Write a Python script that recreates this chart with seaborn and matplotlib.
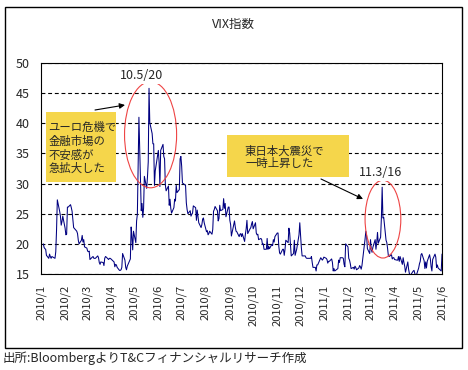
import matplotlib
matplotlib.use("Agg")
import matplotlib.dates as mdates
import matplotlib.pyplot as plt
import pandas as pd
import seaborn as sns
from matplotlib.patches import Ellipse, Rectangle

sns.set_style("white")
plt.rcParams["font.family"] = ["Noto Sans CJK JP", "DejaVu Sans"]

TITLE = "VIX指数"
SOURCE = "出所:BloombergよりT&Cフィナンシャルリサーチ作成"
NOTE_EURO = ["ユーロ危機で", "金融市場の", "不安感が", "急拡大した"]
NOTE_QUAKE = ["東日本大震災で", "一時上昇した"]

START = "2010-01-04"
END = "2011-06-01"
HOLIDAYS = [
    "2010-01-18", "2010-02-15", "2010-04-02", "2010-05-31", "2010-07-05",
    "2010-09-06", "2010-11-25", "2010-12-24", "2011-01-17", "2011-02-21",
    "2011-04-22", "2011-05-30",
]

# daily closes, one list per month
VIX_2010_01 = [20.0, 19.4, 19.2, 19.1, 18.1, 17.6, 18.3, 17.9, 17.6, 17.9, 17.6, 18.7,
               22.3, 27.3, 25.4, 24.6, 23.1, 23.7, 24.6]
VIX_2010_02 = [22.6, 21.5, 21.6, 26.1, 26.1, 26.5, 26.0, 25.4, 24.0, 22.7, 22.1, 21.7,
               20.6, 20.0, 20.6, 21.4, 20.3, 20.7, 19.5]
VIX_2010_03 = [19.3, 18.8, 18.7, 18.8, 17.4, 17.8, 17.9, 17.6, 17.6, 17.6, 18.0, 17.7,
               16.9, 16.6, 17.0, 16.9, 16.4, 17.6, 17.9, 17.8, 17.4, 17.6, 17.6]
VIX_2010_04 = [17.5, 17.0, 16.2, 16.6, 16.5, 16.1, 15.6, 15.6, 15.7, 16.1, 18.4, 17.3,
               16.1, 15.7, 16.3, 16.6, 17.5, 22.8, 21.1, 19.0, 22.1]
VIX_2010_05 = [20.2, 23.8, 24.9, 32.8, 41.0, 25.5, 26.7, 24.4, 25.9, 31.2, 29.2, 31.1,
               33.6, 45.8, 40.1, 38.3, 36.6, 36.6, 29.7, 32.1]
VIX_2010_06 = [35.5, 33.5, 29.5, 35.5, 36.5, 34.5, 34.1, 29.8, 28.8, 29.6, 26.4, 27.4,
               25.9, 25.1, 26.0, 27.4, 27.1, 29.7, 28.5, 29.0, 34.1, 34.5]
VIX_2010_07 = [32.9, 30.1, 29.7, 26.8, 25.7, 25.0, 25.5, 24.6, 24.9, 25.1, 26.3, 26.0,
               23.9, 25.6, 24.6, 23.5, 22.7, 23.2, 24.1, 24.3, 23.5]
VIX_2010_08 = [22.0, 22.2, 21.5, 21.7, 22.1, 21.6, 22.4, 25.4, 25.7, 26.2, 25.5, 23.8,
               24.2, 26.4, 25.5, 25.7, 27.5, 25.9, 26.7, 24.5, 26.1, 26.1]
VIX_2010_09 = [23.9, 23.2, 21.3, 23.8, 22.8, 22.1, 22.0, 21.2, 21.6, 21.7, 21.2, 21.7,
               20.4, 21.6, 22.5, 23.9, 21.7, 22.5, 22.7, 23.3, 23.7]
VIX_2010_10 = [22.5, 23.5, 21.8, 21.5, 21.6, 20.7, 20.9, 20.7, 19.9, 20.0, 19.1, 19.1,
               20.9, 19.1, 19.6, 19.2, 19.9, 19.7, 20.7, 20.3, 21.2]
VIX_2010_11 = [21.8, 21.8, 19.6, 18.5, 18.3, 19.1, 19.1, 18.1, 19.1, 20.6, 20.2, 22.6,
               21.8, 20.0, 18.0, 18.4, 20.6, 18.1, 19.1, 21.5, 23.5]
VIX_2010_12 = [21.4, 19.4, 18.0, 18.0, 18.0, 17.7, 17.6, 17.6, 17.6, 17.6, 17.9, 16.9,
               16.1, 16.1, 15.5, 16.5, 16.5, 17.7, 17.5, 17.3, 17.5, 17.8]
VIX_2011_01 = [17.6, 17.4, 16.8, 17.1, 17.1, 17.5, 16.9, 15.5, 15.9, 15.5, 15.9, 17.3,
               16.9, 17.7, 17.7, 17.6, 16.6, 16.2, 20.0, 19.5]
VIX_2011_02 = [17.6, 17.3, 16.7, 15.9, 16.1, 15.8, 16.3, 16.1, 15.7, 16.0, 16.4, 16.2,
               15.8, 16.4, 20.8, 22.1, 21.3, 19.2, 18.4]
VIX_2011_03 = [20.7, 19.1, 18.6, 19.4, 20.7, 19.1, 20.2, 21.9, 20.1, 21.1, 24.3, 29.4,
               24.3, 24.4, 20.6, 20.2, 19.2, 18.0, 17.9, 18.2, 17.5, 17.7, 17.7]
VIX_2011_04 = [17.4, 17.3, 17.3, 17.9, 17.1, 17.9, 16.6, 17.7, 16.9, 16.3, 15.3, 17.0,
               15.8, 15.1, 14.7, 15.5, 15.6, 15.1, 14.6, 14.8]
VIX_2011_05 = [16.0, 16.7, 17.1, 18.2, 18.4, 17.2, 15.9, 17.0, 16.0, 17.1, 18.2, 17.5,
               16.2, 15.5, 17.4, 18.3, 17.8, 16.1, 16.5, 16.0, 15.5]
VIX_2011_06 = [18.3]

MONTHS = [
    VIX_2010_01, VIX_2010_02, VIX_2010_03, VIX_2010_04, VIX_2010_05, VIX_2010_06,
    VIX_2010_07, VIX_2010_08, VIX_2010_09, VIX_2010_10, VIX_2010_11, VIX_2010_12,
    VIX_2011_01, VIX_2011_02, VIX_2011_03, VIX_2011_04, VIX_2011_05, VIX_2011_06,
]

W, H = 468, 370


def fx(px):
    return px / W


def fy(py):
    return 1 - py / H


dates = pd.bdate_range(START, END, freq="C", holidays=HOLIDAYS)
values = [v for month in MONTHS for v in month]
df = pd.DataFrame({"date": dates, "vix": values})

fig = plt.figure(figsize=(W / 100, H / 100), dpi=100)
ax = fig.add_axes([fx(41), fy(274), fx(442) - fx(41), fy(63) - fy(274)])

sns.lineplot(data=df, x="date", y="vix", ax=ax, color="#000080", linewidth=0.75)

month_ticks = pd.date_range("2010-01-01", "2011-06-01", freq="MS")
ax.set_xlim(month_ticks[0], month_ticks[-1])
ax.set_xticks(month_ticks)
ax.set_xticklabels([f"{d.year}/{d.month}" for d in month_ticks], rotation=90, fontsize=8)
ax.set_ylim(15, 50)
ax.set_yticks(range(15, 55, 5))
ax.tick_params(axis="y", length=0, pad=8, labelsize=9)
ax.tick_params(axis="x", direction="in", length=3, width=0.8, pad=8)
ax.set_xlabel("")
ax.set_ylabel("")
ax.yaxis.grid(True, color="black", linestyle=(0, (3.5, 2.5)), linewidth=0.8)
ax.xaxis.grid(False)
for spine in ax.spines.values():
    spine.set_color("black")
    spine.set_linewidth(0.8)

# peaks marked on the chart
first = df[df["date"] < "2011-01-01"]
second = df[df["date"] >= "2011-01-01"]
peak1 = first.loc[first["vix"].idxmax()]
peak2 = second.loc[second["vix"].idxmax()]

for peak, dx, cy, w, h, lx, ly in [
    (peak1, 2, 38.1, 67, 17.6, -9, 48.0),
    (peak2, 1, 24.1, 46, 12.9, -2, 31.9),
]:
    cx = mdates.date2num(peak["date"]) + dx
    ax.add_patch(Ellipse((cx, cy), w, h, fill=False, edgecolor="#ee4444", linewidth=0.8, zorder=5))
    d = peak["date"]
    ax.text(mdates.date2num(d) + lx, ly, f"{d.year % 100}.{d.month}/{d.day}", ha="center", va="center",
            fontsize=9, zorder=6, bbox=dict(facecolor="white", edgecolor="none", pad=1.5))

# yellow notes
yellow = "#f5d64b"
fig.add_artist(Rectangle((fx(46), fy(182)), fx(70), 70 / H, transform=fig.transFigure,
                         facecolor=yellow, edgecolor="none"))
for text, y in zip(NOTE_EURO, [127, 141.5, 155, 168.5]):
    fig.text(fx(48.5), fy(y), text, va="center", ha="left", fontsize=8.2)

fig.add_artist(Rectangle((fx(227), fy(177)), fx(122), 42 / H, transform=fig.transFigure,
                         facecolor=yellow, edgecolor="none"))
for text, y in zip(NOTE_QUAKE, [151.5, 163.5]):
    fig.text(fx(245), fy(y), text, va="center", ha="left", fontsize=8.2)

arrow = dict(arrowstyle="-|>", color="black", lw=0.8, mutation_scale=8, shrinkA=0, shrinkB=0)
ax.annotate("", xy=(125, H - 105), xytext=(95, H - 110), xycoords="figure pixels", arrowprops=arrow)
ax.annotate("", xy=(363, H - 199), xytext=(321, H - 179), xycoords="figure pixels", arrowprops=arrow)

fig.text(fx(233), fy(24), TITLE, ha="center", va="center", fontsize=9)
fig.text(fx(3), fy(358), SOURCE, ha="left", va="center", fontsize=9)
fig.add_artist(Rectangle((fx(5), fy(348)), fx(457), 341 / H, transform=fig.transFigure,
                         fill=False, edgecolor="black", linewidth=1))

fig.savefig("out.png", dpi=100)
